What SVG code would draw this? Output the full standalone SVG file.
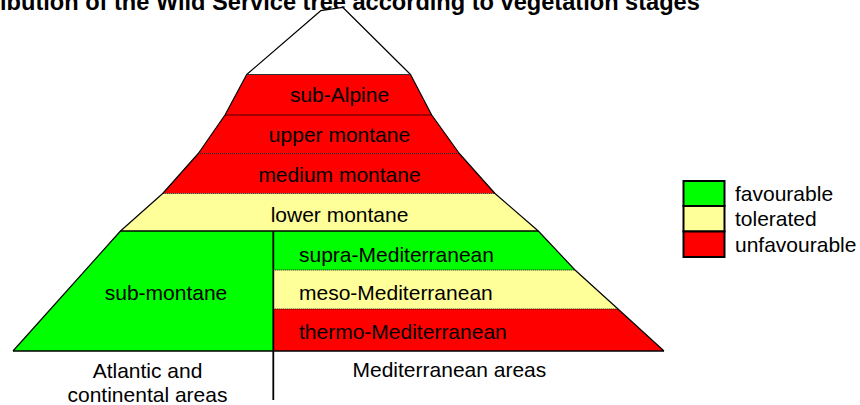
<svg xmlns="http://www.w3.org/2000/svg" width="860" height="405" viewBox="0 0 860 405">
<style>
text{font-family:"Liberation Sans",Arial,sans-serif;font-size:21px;fill:#000}
.t{font-weight:bold;font-size:23.6px}
.c{text-anchor:middle}
.red{fill:#FF0000}
.grn{fill:#00FF00}
.yel{fill:#FFFF99}
.sep{stroke:#000;stroke-width:1;fill:none}
.dot{stroke:#000;stroke-width:1;stroke-dasharray:1 1;fill:none}
.out{stroke:#000;stroke-width:1.2;fill:none;stroke-linejoin:round}
</style>
<rect width="860" height="405" fill="#fff"/>
<text class="t" x="0" y="10">ibution of the Wild Service tree according to vegetation stages</text>
<g id="peak">
<polygon points="246.7,74.5 320.7,10.7 342.7,7.3 410.5,74.5" fill="#fff" stroke="#000" stroke-width="1.2" stroke-linejoin="round"/>
</g>
<g id="sub-alpine">
<polygon class="red" points="246.7,74.5 410.5,74.5 431.7,115 225,115"/>
<text class="c" x="339.5" y="102">sub-Alpine</text>
</g>
<g id="upper-montane">
<polygon class="red" points="225,115 431.7,115 459.3,153.5 198.3,153.5"/>
<text class="c" x="339.5" y="142">upper montane</text>
</g>
<g id="medium-montane">
<polygon class="red" points="198.3,153.5 459.3,153.5 495,193.5 162.7,193.5"/>
<text class="c" x="339.5" y="182">medium montane</text>
</g>
<g id="lower-montane">
<polygon class="yel" points="162.7,193.5 495,193.5 538.3,231 120.5,231"/>
<text class="c" x="339.5" y="222">lower montane</text>
</g>
<g id="sub-montane">
<polygon class="grn" points="120.5,231 273.3,231 273.3,351 13,351"/>
<text class="c" x="166" y="300">sub-montane</text>
</g>
<g id="supra-mediterranean">
<polygon class="grn" points="273.3,231 538.3,231 575,270 273.3,270"/>
<text x="299" y="262">supra-Mediterranean</text>
</g>
<g id="meso-mediterranean">
<polygon class="yel" points="273.3,270 575,270 618,309 273.3,309"/>
<text x="299" y="300">meso-Mediterranean</text>
</g>
<g id="thermo-mediterranean">
<polygon class="red" points="273.3,309 618,309 664,351 273.3,351"/>
<text x="299" y="338.5">thermo-Mediterranean</text>
</g>
<g id="connectors">
<line class="sep" x1="246.7" y1="74.5" x2="410.5" y2="74.5" style="stroke:#333"/>
<line class="sep" x1="225" y1="115" x2="431.7" y2="115" style="stroke:#400"/>
<line class="dot" x1="198.3" y1="153.5" x2="459.3" y2="153.5"/>
<line class="dot" x1="162.7" y1="193.5" x2="495" y2="193.5"/>
<line class="sep" x1="120.5" y1="231" x2="538.3" y2="231" style="stroke-width:1.5"/>
<line class="dot" x1="273.3" y1="270" x2="575" y2="270"/>
<line class="dot" x1="273.3" y1="309" x2="618" y2="309"/>
<line class="sep" x1="13" y1="351" x2="664" y2="351" style="stroke-width:1.5"/>
<polyline class="out" points="246.7,74.5 225,115 198.3,153.5 162.7,193.5 120.5,231 13,351"/>
<polyline class="out" points="410.5,74.5 431.7,115 459.3,153.5 495,193.5 538.3,231 575,270 618,309 664,351"/>
<line class="sep" x1="273.3" y1="231" x2="273.3" y2="400" style="stroke-width:1.8"/>
</g>
<g id="area-labels">
<text class="c" x="147.5" y="378">Atlantic and</text>
<text class="c" x="147.5" y="402">continental areas</text>
<text x="352.5" y="377">Mediterranean areas</text>
</g>
<g id="legend">
<rect class="grn" x="683.5" y="181" width="41" height="25" stroke="#000" stroke-width="2"/>
<rect class="yel" x="683.5" y="206" width="41" height="25.5" stroke="#000" stroke-width="2"/>
<rect class="red" x="683.5" y="231.5" width="41" height="25.5" stroke="#000" stroke-width="2"/>
<text x="735" y="200.5">favourable</text>
<text x="735" y="225.5">tolerated</text>
<text x="735" y="251.5">unfavourable</text>
</g>
</svg>
